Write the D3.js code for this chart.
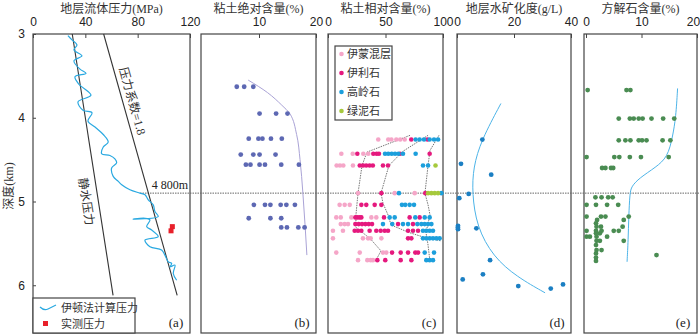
<!DOCTYPE html>
<html>
<head>
<meta charset="utf-8">
<script src="https://cdn.jsdelivr.net/npm/d3@7.9.0/dist/d3.min.js"></script>
<style>
  body { margin: 0; background: #fff; }
  svg { display: block; font-family: "Liberation Serif", "Noto Sans CJK SC", serif; }
</style>
</head>
<body>
<svg id="chart" width="700" height="336"></svg>
<script>
// ---- data: [depth km, value] ----
const eatonPressure = [[3.02,26.7],[3.07,29.8],[3.13,33.6],[3.19,31.3],[3.26,37.4],[3.32,31.3],[3.42,35.9],[3.47,40.5],[3.51,32.1],[3.60,35.1],[3.73,44.3],[3.81,34.4],[3.91,38.2],[3.94,45.1],[4.04,42.0],[4.11,47.4],[4.20,53.7],[4.29,57.5],[4.35,53.7],[4.43,52.5],[4.45,58.8],[4.49,62.6],[4.54,63.9],[4.60,60.1],[4.70,61.3],[4.76,65.2],[4.80,67.8],[4.86,74.1],[4.90,81.7],[4.92,85.6],[4.98,88.1],[5.04,91.9],[5.12,93.2],[5.18,95.7],[5.21,76.6],[5.20,85.6],[5.22,89.4],[5.30,86.9],[5.34,90.7],[5.42,95.7],[5.46,85.6],[5.54,89.4],[5.58,98.3],[5.64,100.8],[5.72,103.4],[5.74,106.0],[5.78,104.7],[5.76,108.5],[5.86,107.2],[5.94,109.8]];
const measuredPressure = [[5.30,106.5],[5.35,105.5]];
const hydrostaticLine = [[3,30],[6.12,61.2]];
const coefLine = [[3,54],[6.12,110.2]];
const boundaryDepth = 4.9;

const clayAbs = [[3.63,6.1],[3.63,7.4],[3.63,9.0],[3.95,10.1],[3.95,13.0],[3.95,15.0],[4.25,8.2],[4.25,9.9],[4.25,10.6],[4.25,12.1],[4.25,14.0],[4.44,6.8],[4.44,9.0],[4.44,10.1],[4.44,12.9],[4.56,7.7],[4.56,8.5],[4.56,10.1],[4.56,11.05],[4.56,13.9],[4.56,17.0],[5.04,9.1],[5.04,11.05],[5.04,12.0],[5.04,13.8],[5.04,14.8],[5.04,16.3],[5.20,8.2],[5.20,12.0],[5.20,13.9],[5.31,13.9],[5.31,14.9],[5.31,16.9],[5.31,18.0]];
const clayAbsTrend = [[3.55,8.1],[3.7,11.5],[3.85,14],[3.95,15.4],[4.2,16.6],[4.5,17.2],[4.9,17.7],[5.3,18.1],[5.64,18.4]];

const illiteSmectite = [[4.26,43.7],[4.26,52.4],[4.26,55.1],[4.26,59.4],[4.26,62.8],[4.26,66.7],[4.43,11.6],[4.43,21.5],[4.43,30.7],[4.43,35],[4.57,7.5],[4.57,10.4],[4.57,13.3],[4.57,21.7],[4.90,26.1],[4.90,58],[4.90,75.4],[5.04,10.1],[5.04,14.5],[5.04,18.9],[5.19,7.2],[5.19,11.1],[5.19,20.3],[5.19,37.7],[5.19,42],[5.27,11.1],[5.27,14.5],[5.27,17.4],[5.35,4.3],[5.35,13],[5.44,4.3],[5.44,30.4],[5.44,34.8],[5.44,37.1],[5.44,46.4],[5.61,7.2],[5.61,27.6],[5.61,47.8],[5.61,50.7],[5.70,26.1],[5.70,34.2],[5.70,37.1],[5.70,39.1]];
const illite = [[4.26,72.4],[4.26,86.4],[4.43,25.5],[4.43,39.4],[4.43,42.3],[4.43,44.3],[4.43,62.6],[4.43,88.4],[4.57,27.6],[4.57,30.4],[4.57,33.2],[4.57,36.2],[4.57,39],[4.57,47.8],[4.57,52.2],[4.90,46.4],[4.90,84.6],[5.04,29],[5.04,33.3],[5.04,40.6],[5.04,46.4],[5.19,23.8],[5.19,25.5],[5.19,27.5],[5.19,29],[5.19,48.7],[5.19,71],[5.19,79.7],[5.27,23.8],[5.27,26.7],[5.27,29.6],[5.27,32.5],[5.27,35.4],[5.27,38.3],[5.27,60.9],[5.27,73.9],[5.35,23.2],[5.35,26.1],[5.35,29],[5.35,36.2],[5.35,42],[5.35,45.8],[5.35,49.3],[5.35,52.2],[5.35,69.6],[5.35,73.9],[5.35,78.3],[5.44,69.6],[5.44,72.5],[5.61,55.7],[5.61,63.2],[5.61,69.6],[5.61,75.9],[5.61,78.3],[5.70,42.9],[5.70,49.8],[5.70,63.2],[5.70,72.5]];
const kaolinite = [[4.26,76.2],[4.26,79.7],[4.26,83.5],[4.26,88.4],[4.26,92.2],[4.26,95.7],[4.43,49.6],[4.43,52.4],[4.43,55.4],[4.43,58.3],[4.43,61.2],[4.43,65.2],[4.43,76.2],[4.57,82.6],[4.57,87],[4.90,61.7],[4.90,98.6],[5.04,64.3],[5.04,67.2],[5.04,71],[5.04,74.8],[5.19,53.6],[5.19,58],[5.19,75.9],[5.19,84.1],[5.19,88.4],[5.27,47.8],[5.27,55.9],[5.27,65.2],[5.27,69.6],[5.27,77.7],[5.27,81.2],[5.27,84.1],[5.27,87],[5.27,89.9],[5.35,82.6],[5.35,85.5],[5.35,88.4],[5.35,91.3],[5.44,82.6],[5.44,85.5],[5.44,88.4],[5.44,91.3],[5.44,94.2],[5.44,97.1],[5.61,84.1],[5.61,92.2],[5.70,85.5],[5.70,88.4],[5.70,91.3]];
const chlorite = [[4.57,93.5],[4.90,87],[4.90,89.9],[4.90,92.8],[4.90,95.7]];
const clayBound1 = [[4.21,71.3],[4.41,33.9],[4.57,29.6],[4.90,26.1],[5.16,24.3],[5.31,24.3],[5.44,36.5],[5.59,46.1],[5.70,41.7]];
const clayBound2 = [[4.21,87],[4.40,65.2],[4.57,53],[4.90,46.1],[5.02,47.8],[5.16,52.2],[5.28,54.8],[5.37,70.4],[5.43,84.3],[5.47,98.3]];
const clayBound3 = [[4.21,96.5],[4.39,88.7],[4.57,87],[4.90,84.3],[5.04,87],[5.16,88.7],[5.37,85.2],[5.52,87],[5.72,88.7]];

const salinity = [[4.26,8.9],[4.55,1.4],[4.68,12.0],[4.91,4.1],[4.96,0.8],[5.29,0.35],[5.33,0.35],[5.31,0.3],[5.32,6.8],[5.70,11.6],[5.93,2.0],[5.87,9.1],[6.01,21.5],[6.04,32.9],[5.99,37.2]];
const salinityTrend = [[3.83,15.4],[4.27,8.5],[4.59,5.7],[4.9,5.3],[5.30,6.9],[5.66,12.7],[5.90,21],[6.09,30.9]];

const calcite = [[3.67,0.3],[3.67,7.3],[3.67,8.0],[4.01,5.9],[4.01,7.9],[4.01,8.6],[4.01,9.5],[4.01,10.2],[4.01,11.8],[4.01,13.9],[4.01,15.9],[4.27,5.9],[4.27,7.1],[4.27,8.0],[4.27,9.5],[4.27,10.1],[4.27,10.9],[4.27,13.8],[4.27,15.2],[4.47,0.1],[4.47,5.1],[4.47,6.0],[4.47,7.9],[4.47,9.9],[4.47,14.9],[4.60,2.9],[4.60,3.5],[4.60,4.5],[4.60,4.9],[4.95,1.7],[4.95,2.8],[4.95,4.0],[4.95,4.8],[5.04,0.1],[5.04,1.8],[5.04,3.8],[5.04,5.8],[5.18,0.1],[5.18,2.7],[5.18,3.5],[5.18,7.7],[5.22,2.0],[5.22,6.8],[5.26,1.8],[5.30,1.9],[5.30,2.7],[5.30,6.6],[5.35,0.1],[5.35,1.8],[5.35,2.8],[5.35,5.0],[5.35,5.9],[5.38,1.8],[5.38,2.5],[5.42,0.1],[5.42,0.7],[5.42,1.9],[5.42,3.8],[5.47,1.9],[5.47,2.5],[5.47,6.8],[5.52,1.8],[5.58,1.9],[5.58,2.8],[5.62,1.8],[5.64,12.7],[5.67,1.8],[5.71,1.8]];
const calciteTrend = [[3.65,16.5],[3.99,16.2],[4.23,15.6],[4.47,14.7],[4.59,12.6],[4.72,9.6],[4.82,8.2],[4.90,7.9],[5.18,7.7],[5.46,7.6],[5.72,7.4]];

const depthTicks = [3, 4, 5, 6];
const mineralNames = ['伊蒙混层', '伊利石', '高岭石', '绿泥石'];
const mineralColors = ['#f5a6c8', '#e5197e', '#1c9fdc', '#a6c93c'];

// ---- layout ----
const svg = d3.select('#chart');
const plotTop = 34, plotBottom = 333;
const y = d3.scaleLinear().domain([3, 6.57]).range([plotTop, plotBottom]);

const panels = [
  { key: 'a', box: [33, 190], domain: [0, 120], ticks: [0, 40, 80, 120], title: '地层流体压力(MPa)' },
  { key: 'b', box: [201, 316], domain: [0, 20], ticks: [10, 20], title: '粘土绝对含量(%)', range: [202, 316] },
  { key: 'c', box: [328, 443], domain: [0, 100], ticks: [0, 50, 100], title: '粘土相对含量(%)' },
  { key: 'd', box: [457, 571], domain: [0, 40], ticks: [0, 20, 40], title: '地层水矿化度(g/L)' },
  { key: 'e', box: [584, 697], domain: [0, 20], ticks: [0, 10, 20], title: '方解石含量(%)', range: [586, 697] }
];

const xs = {};
panels.forEach((p) => {
  const x = d3.scaleLinear().domain(p.domain).range(p.range || p.box);
  xs[p.key] = x;
  svg.append('rect')
    .attr('x', p.box[0]).attr('y', plotTop)
    .attr('width', p.box[1] - p.box[0]).attr('height', plotBottom - plotTop)
    .attr('fill', 'none').attr('stroke', '#444').attr('stroke-width', 1.2);

  const ax = svg.append('g')
    .attr('transform', `translate(0,${plotTop})`)
    .call(d3.axisTop(x).tickValues(p.ticks).tickFormat(d3.format('d')).tickSize(-4).tickPadding(8));
  ax.select('.domain').remove();
  ax.selectAll('line').attr('stroke', '#444');
  ax.selectAll('text').attr('font-size', 12).attr('fill', '#222').attr('font-family', null)
    .attr('dx', (d) => (x(d) > 690 ? -4 : 0));

  svg.append('text')
    .attr('x', (p.box[0] + p.box[1]) / 2).attr('y', 13)
    .attr('text-anchor', 'middle').attr('font-size', 12).attr('fill', '#333')
    .text(p.title);

  svg.append('text')
    .attr('x', p.box[1] - 14).attr('y', 327)
    .attr('text-anchor', 'middle').attr('font-size', 13).attr('fill', '#222')
    .text(`(${p.key})`);
});

// depth axis on panel (a)
const yAx = svg.append('g')
  .attr('transform', `translate(${panels[0].box[0]},0)`)
  .call(d3.axisLeft(y).tickValues(depthTicks).tickFormat(d3.format('d')).tickSize(-3).tickPadding(8));
yAx.select('.domain').remove();
yAx.selectAll('line').attr('stroke', '#444');
yAx.selectAll('text').attr('font-size', 12).attr('fill', '#222').attr('font-family', null);

svg.append('text')
  .attr('transform', 'translate(9,186) rotate(-90)')
  .attr('text-anchor', 'middle').attr('dy', '0.35em')
  .attr('font-size', 12).attr('fill', '#333')
  .text('深度(km)');

// boundary line at 4 800 m
svg.append('line')
  .attr('x1', 140).attr('x2', 700)
  .attr('y1', y(boundaryDepth)).attr('y2', y(boundaryDepth))
  .attr('stroke', '#666').attr('stroke-width', 1).attr('stroke-dasharray', '1.5,1');
svg.append('text')
  .attr('x', 188).attr('y', y(boundaryDepth) - 4)
  .attr('text-anchor', 'end').attr('font-size', 12).attr('fill', '#222')
  .text('4 800m');

const lineOf = (x, curve) => d3.line().x((d) => x(d[1])).y((d) => y(d[0])).curve(curve || d3.curveLinear);

// ---- panel a ----
const xa = xs.a;
[hydrostaticLine, coefLine].forEach((ln) => {
  svg.append('path').attr('d', lineOf(xa)(ln))
    .attr('fill', 'none').attr('stroke', '#333').attr('stroke-width', 1.1);
});

function lineLabel(ln, depth, offset, txt) {
  const x1 = xa(ln[0][1]), y1 = y(ln[0][0]), x2 = xa(ln[1][1]), y2 = y(ln[1][0]);
  const ang = Math.atan2(y2 - y1, x2 - x1) * 180 / Math.PI;
  const t = (y(depth) - y1) / (y2 - y1);
  const cx = x1 + t * (x2 - x1) + offset, cy = y(depth);
  svg.append('text')
    .attr('transform', `translate(${cx},${cy}) rotate(${ang})`)
    .attr('text-anchor', 'middle').attr('dy', '0.35em')
    .attr('font-size', 12).attr('fill', '#333')
    .text(txt);
}
lineLabel(coefLine, 3.8, 10, '压力系数=1.8');
lineLabel(hydrostaticLine, 5.0, -12, '静水压力');

svg.append('path').attr('d', lineOf(xa, d3.curveCatmullRom)(eatonPressure))
  .attr('fill', 'none').attr('stroke', '#2aa9e1').attr('stroke-width', 1.2);

svg.selectAll('.meas').data(measuredPressure).join('rect')
  .attr('x', (d) => xa(d[1]) - 2.5).attr('y', (d) => y(d[0]) - 2.5)
  .attr('width', 5).attr('height', 5).attr('fill', '#e8202a');

// legend a
const lgA = svg.append('g');
lgA.append('rect').attr('x', 33).attr('y', 298).attr('width', 102).attr('height', 35)
  .attr('fill', '#fff').attr('stroke', '#444').attr('stroke-width', 1.2);
lgA.append('path').attr('d', 'M40,307 Q44,311 48,309 T56,305')
  .attr('fill', 'none').attr('stroke', '#2aa9e1').attr('stroke-width', 1.2);
lgA.append('text').attr('x', 61).attr('y', 312).attr('font-size', 11).attr('fill', '#333').text('伊顿法计算压力');
lgA.append('rect').attr('x', 43).attr('y', 321).attr('width', 5).attr('height', 5).attr('fill', '#e8202a');
lgA.append('text').attr('x', 61).attr('y', 328).attr('font-size', 11).attr('fill', '#333').text('实测压力');

// ---- panel b ----
const xb = xs.b;
svg.append('path').attr('d', lineOf(xb, d3.curveMonotoneY)(clayAbsTrend))
  .attr('fill', 'none').attr('stroke', '#aaa3d6').attr('stroke-width', 1);
svg.selectAll('.cb').data(clayAbs).join('circle')
  .attr('cx', (d) => xb(d[1])).attr('cy', (d) => y(d[0])).attr('r', 2.4).attr('fill', '#5d68b3');

// ---- panel c ----
const xc = xs.c;
[clayBound1, clayBound2, clayBound3].forEach((ln) => {
  svg.append('path').attr('d', lineOf(xc)(ln))
    .attr('fill', 'none').attr('stroke', '#666').attr('stroke-width', 0.9).attr('stroke-dasharray', '1.5,1');
});
[illiteSmectite, illite, kaolinite, chlorite].forEach((set, i) => {
  svg.append('g').selectAll('circle').data(set).join('circle')
    .attr('cx', (d) => xc(d[1])).attr('cy', (d) => y(d[0])).attr('r', 2.3).attr('fill', mineralColors[i]);
});
const lgC = svg.append('g');
lgC.append('rect').attr('x', 335).attr('y', 46).attr('width', 57).attr('height', 74)
  .attr('fill', '#fff').attr('stroke', '#444').attr('stroke-width', 1.2);
mineralNames.forEach((n, i) => {
  const yy = 54 + i * 19;
  lgC.append('circle').attr('cx', 341.5).attr('cy', yy).attr('r', 2.3).attr('fill', mineralColors[i]);
  lgC.append('text').attr('x', 347).attr('y', yy).attr('dy', '0.35em')
    .attr('font-size', 11).attr('fill', '#333').text(n);
});

// ---- panel d ----
const xd = xs.d;
svg.append('path').attr('d', lineOf(xd, d3.curveBasis)(salinityTrend))
  .attr('fill', 'none').attr('stroke', '#4db4e8').attr('stroke-width', 1);
svg.selectAll('.sd').data(salinity).join('circle')
  .attr('cx', (d) => xd(d[1])).attr('cy', (d) => y(d[0])).attr('r', 2.4).attr('fill', '#1b7fc3');

// ---- panel e ----
const xe = xs.e;
svg.append('path').attr('d', lineOf(xe, d3.curveBasis)(calciteTrend))
  .attr('fill', 'none').attr('stroke', '#4db4e8').attr('stroke-width', 1);
svg.selectAll('.ce').data(calcite).join('circle')
  .attr('cx', (d) => xe(d[1])).attr('cy', (d) => y(d[0])).attr('r', 2.4).attr('fill', '#4a8c52');
</script>
</body>
</html>
